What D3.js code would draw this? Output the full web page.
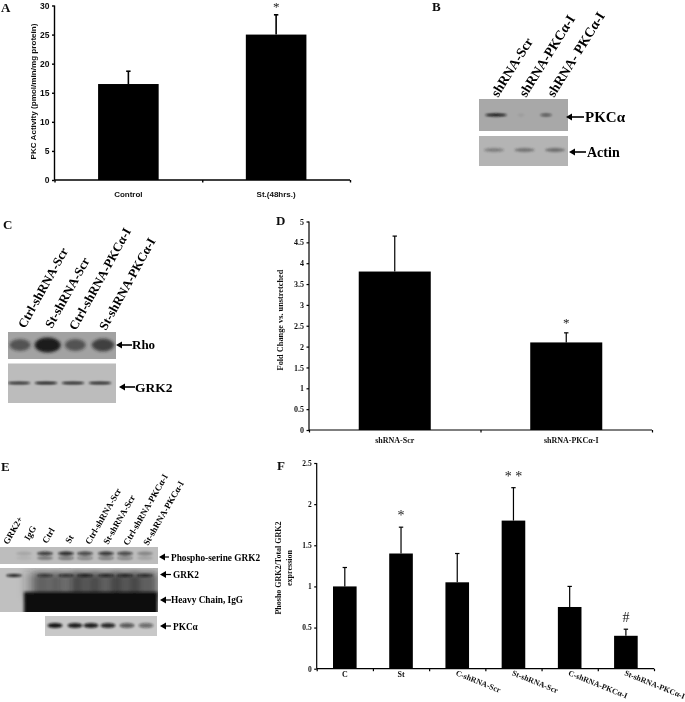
<!DOCTYPE html>
<html><head><meta charset="utf-8">
<script src="https://cdn.jsdelivr.net/npm/d3@7"></script>
<style>html,body{margin:0;padding:0;background:#fff}svg{display:block}</style></head>
<body><svg id="c" width="685" height="702"></svg>
<script>
// Panel A
const aCats=["Control","St.(48hrs.)"], aVals=[16.5,25], aTops=[18.7,28.4], aTicks=[0,5,10,15,20,25,30], aMarks=["","*"];
// Panel D
const dCats=["shRNA-Scr","shRNA-PKCα-I"], dVals=[3.8,2.1], dTops=[4.65,2.33], dTicks=[0,0.5,1,1.5,2,2.5,3,3.5,4,4.5,5], dMarks=["","*"];
// Panel F
const fCats=["C","St","C-shRNA-Scr","St-shRNA-Scr","C-shRNA-PKCα-I","St-shRNA-PKCα-I"], fVals=[1,1.4,1.05,1.8,0.75,0.4], fTops=[1.23,1.72,1.4,2.2,1,0.48], fTicks=[0,0.5,1,1.5,2,2.5], fMarks=["","*","","* *","","#"];
// Blot lanes
const bLanes=["shRNA-Scr","shRNA-PKCα-I","shRNA- PKCα-I"];
const bPkc=[1,0.08,0.6], bActin=[0.4,0.5,0.55];
const cLanes=["Ctrl-shRNA-Scr","St-shRNA-Scr","Ctrl-shRNA-PKCα-I","St-shRNA-PKCα-I"];
const cRho=[0.6,1,0.6,0.72], cGrk=[0.9,1,0.95,0.95];
const eLanes=["GRK2+","IgG","Ctrl","St","Ctrl-shRNA-Scr","St-shRNA-Scr","Ctrl-shRNA-PKCα-I","St-shRNA-PKCα-I"];
const ePhospho=[0,0.12,0.75,0.85,0.7,0.8,0.7,0.3], eGrk=[0.95,0,0.7,0.75,0.9,0.85,0.85,0.8], eIgg=[0,1,1,1,1,1,1,1], eSmear=[0,0.2,0.55,0.55,0.7,0.65,0.7,0.65], ePkc=[0.95,0.9,0.9,0.85,0.6,0.5];

const svg=d3.select("#c");
const serif="'Liberation Serif',serif", sans="'Liberation Sans',Arial,sans-serif";
const defs=svg.append("defs");
[["soft",0.35],["b1",0.9],["b2",1.8],["b4",3.5]].forEach(([id,s])=>defs.append("filter").attr("id",id)
  .attr("filterUnits","userSpaceOnUse").attr("x",-20).attr("y",-20).attr("width",725).attr("height",742)
  .append("feGaussianBlur").attr("stdDeviation",s));
const root=svg.append("g").attr("filter","url(#soft)");

function label(t,x,y,o={}){
  const e=root.append("text").attr("x",x).attr("y",y).text(t)
    .attr("font-family",o.family||serif).attr("font-weight","bold").attr("font-size",o.size||10)
    .attr("fill",o.fill||"#111").attr("text-anchor",o.anchor||"start");
  if(o.rot!=null)e.attr("transform",`rotate(${o.rot} ${x} ${y})`);
  return e;
}
[["A",1,12],["B",432,11],["C",3,229],["D",276,225],["E",1,471],["F",277,470]].forEach(([t,x,y])=>label(t,x,y,{size:13}));

function barChart(o){
  const g=root.append("g");
  const x=d3.scaleBand().domain(o.cats).range([o.x0,o.x1]).paddingInner(o.pad).paddingOuter(o.pad/2);
  const y=d3.scaleLinear().domain([0,o.max]).range([o.y0,o.y1]);
  const cx=c=>x(c)+x.bandwidth()/2;
  g.selectAll(".bar").data(o.cats).join("rect").attr("x",c=>x(c)).attr("width",x.bandwidth())
    .attr("y",(c,i)=>y(o.vals[i])).attr("height",(c,i)=>o.y0-y(o.vals[i])).attr("fill","#000");
  g.selectAll(".err").data(o.cats).join("line").attr("x1",cx).attr("x2",cx)
    .attr("y1",(c,i)=>y(o.vals[i])).attr("y2",(c,i)=>y(o.tops[i])).attr("stroke","#000").attr("stroke-width",o.ew||1.4);
  g.selectAll(".cap").data(o.cats).join("line").attr("x1",c=>cx(c)-2.2).attr("x2",c=>cx(c)+2.2)
    .attr("y1",(c,i)=>y(o.tops[i])).attr("y2",(c,i)=>y(o.tops[i])).attr("stroke","#000").attr("stroke-width",o.ew||1.4);
  const ya=g.append("g").attr("transform",`translate(${o.x0},0)`)
    .call(d3.axisLeft(y).tickValues(o.ticks).tickSize(2.5).tickPadding(o.tickPad||2.5).tickFormat(d=>String(d)));
  const xa=g.append("g").attr("transform",`translate(0,${o.y0})`)
    .call(d3.axisBottom(d3.scaleLinear().domain([0,o.cats.length]).range([o.x0,o.x1]))
      .tickValues(d3.range(o.cats.length+1)).tickSize(2.5).tickFormat(""));
  [ya,xa].forEach(a=>{a.selectAll("path,line").attr("stroke","#000").attr("stroke-width",o.aw||1.4);
    a.select(".domain").attr("d",a===ya?`M0,${o.y1}V${o.y0}`:`M${o.x0},0H${o.x1}`);});
  ya.selectAll("text").attr("font-family",o.family).attr("font-weight","bold").attr("font-size",o.tickSize).attr("fill","#111");
  o.cats.forEach((c,i)=>{ if(o.marks[i]) label(o.marks[i],cx(c),y(o.tops[i])+(o.markDy||-6),{anchor:"middle",size:o.markSize||10,family:o.markFamily||serif,fill:"#222"}).attr("font-weight","normal"); });
  return {x,y,cx};
}

// A
const A=barChart({cats:aCats,vals:aVals,tops:aTops,ticks:aTicks,marks:aMarks,max:30,x0:54.5,x1:350,y0:180,y1:5.5,pad:0.59,family:sans,tickSize:8.5,markDy:-4,markSize:13,ew:1.6});
aCats.forEach(c=>label(c,A.cx(c),197,{anchor:"middle",family:sans,size:8}));
label("PKC Activity (pmol/min/mg protein)",36,91.5,{anchor:"middle",family:sans,size:8.1,rot:-90});

// D
const D=barChart({cats:dCats,vals:dVals,tops:dTops,ticks:dTicks,marks:dMarks,max:5,x0:309,x1:652,y0:430,y1:221.5,pad:0.58,family:serif,tickSize:8,markDy:-6,markSize:13,aw:1.2,ew:1.2});
dCats.forEach((c,i)=>label(c,D.cx(c)+i*5,443,{anchor:"middle",size:8}));
label("Fold Change vs. unstretched",283,320,{anchor:"middle",size:8.3,rot:-90});

// F
const F=barChart({cats:fCats,vals:fVals,tops:fTops,ticks:fTicks,marks:fMarks,max:2.5,x0:316.7,x1:654,y0:668.7,y1:463,pad:0.58,family:serif,tickSize:7.5,markDy:-7,markSize:14,aw:1.2,ew:1.2});
fCats.forEach((c,i)=>{
  if(i<2) label(c,F.cx(c),677,{anchor:"middle",size:8});
  else label(c,F.cx(c)-2,675,{size:8,rot:22});
});
label("Phosho GRK2/Total GRK2",281,568,{anchor:"middle",size:8,rot:-90});
label("expression",292,568,{anchor:"middle",size:8,rot:-90});

// Blots
function blotPanel(x0,x1,y0,y1,bg){
  const id="clip"+(defs.selectAll("clipPath").size());
  defs.append("clipPath").attr("id",id).append("rect").attr("x",x0).attr("y",y0).attr("width",x1-x0).attr("height",y1-y0);
  root.append("rect").attr("x",x0).attr("y",y0).attr("width",x1-x0).attr("height",y1-y0).attr("fill",bg);
  return root.append("g").attr("clip-path",`url(#${id})`);
}
function bands(g,vals,lane,cy,rx,ry,blur,color="#111"){
  g.append("g").attr("filter",`url(#${blur})`).selectAll("ellipse").data(vals).join("ellipse")
    .attr("cx",(d,i)=>lane(i)).attr("cy",cy).attr("rx",rx).attr("ry",ry)
    .attr("fill",color).attr("opacity",d=>d);
}
function smears(g,vals,lane,halfW,y0,y1,blur,color){
  g.append("g").attr("filter",`url(#${blur})`).selectAll("rect").data(vals).join("rect")
    .attr("x",(d,i)=>lane(i)-halfW).attr("width",halfW*2+0.5).attr("y",y0).attr("height",y1-y0)
    .attr("fill",color).attr("opacity",d=>d);
}
function arrow(x1,x2,y,w=1.4){
  root.append("line").attr("x1",x1+4).attr("x2",x2).attr("y1",y).attr("y2",y).attr("stroke","#000").attr("stroke-width",w);
  root.append("path").attr("d",`M${x1},${y}l6,-3.5v7z`).attr("fill","#000");
}
const rot=(names,pts,size,ang)=>names.forEach((n,i)=>label(n,pts[i][0],pts[i][1],{size,rot:ang,fill:"#000"}));

// B
const bLane=d3.scalePoint().domain(d3.range(3)).range([496,546]);
const bLane2=d3.scalePoint().domain(d3.range(3)).range([494,555]);
let p=blotPanel(479,568,99,131,"#a8a8a8");
bands(p,bPkc,bLane,115,d=>3+8*d*d,1.5,"b1");
p=blotPanel(479,568,136,166,"#b4b4b4");
bands(p,bActin,bLane2,150,10,1.9,"b1","#333");
rot(bLanes,[[498,98],[526,98],[554,98]],13.7,-58);
arrow(566,584,117,1.6); label("PKCα",585,122,{size:15,fill:"#000"});
arrow(569,586,152,1.6); label("Actin",587,157,{size:14,fill:"#000"});

// C
const cLane=d3.scalePoint().domain(d3.range(4)).range([19,100]);
const cRhoLane=d3.scalePoint().domain(d3.range(4)).range([20,103]);
p=blotPanel(8,116,332,359,"#a2a2a2");
bands(p,cRho,cRhoLane,345,d=>7+6*d,d=>3.5+4*d,"b2","#1a1a1a");
p=blotPanel(8,116,363.5,403,"#bcbcbc");
bands(p,cGrk,cLane,383,11.5,1.3,"b1","#0c0c0c");
rot(cLanes,[[25,329],[52,329],[76,331],[106,331]],12.8,-61);
arrow(116,132,345,1.6); label("Rho",132,349,{size:13,fill:"#000"});
arrow(119,135,387,1.6); label("GRK2",135,392,{size:13.5,fill:"#000"});

// E
const eLane=d3.scaleOrdinal().domain(d3.range(8)).range([14,24,45,66,85,106,125,145]);
const eHeavy=d3.scaleOrdinal().domain(d3.range(8)).range([14,36,45,66,85,106,125,145]);
const e3=d3.scaleOrdinal().domain(d3.range(6)).range([55,75,91,108,127,146]);
p=blotPanel(0,158,547,564,"#bdbdbd");
bands(p,ePhospho,eLane,553.5,8,1.9,"b1");
bands(p,ePhospho.map(v=>v*0.5),eLane,558,8,1.8,"b1");
p=blotPanel(0,158,568,612,"#c0c0c0");
smears(p,eSmear,eHeavy,12,572,598,"b4","#2a2a2a");
bands(p,eGrk,eLane,575.5,8,1.5,"b1");
smears(p,eIgg,eHeavy,12,592,622,"b2","#0c0c0c");
p=blotPanel(45,157,616,636,"#c8c8c8");
bands(p,ePkc,e3,625.5,7.5,2.6,"b1");
rot(eLanes,[[8,545],[29,541],[47,544],[70,544],[90,545],[108,545],[128,546],[148,546]],9,-60);
arrow(159,169,557,1.2); label("Phospho-serine GRK2",171,561,{size:9.3,fill:"#000"});
arrow(160,171,574.5,1.2); label("GRK2",173,578,{size:9.3,fill:"#000"});
arrow(160,171,600,1.2); label("Heavy Chain, IgG",171,603,{size:9.3,fill:"#000"});
arrow(160,171,626,1.2); label("PKCα",173,630,{size:9.3,fill:"#000"});
</script></body></html>
